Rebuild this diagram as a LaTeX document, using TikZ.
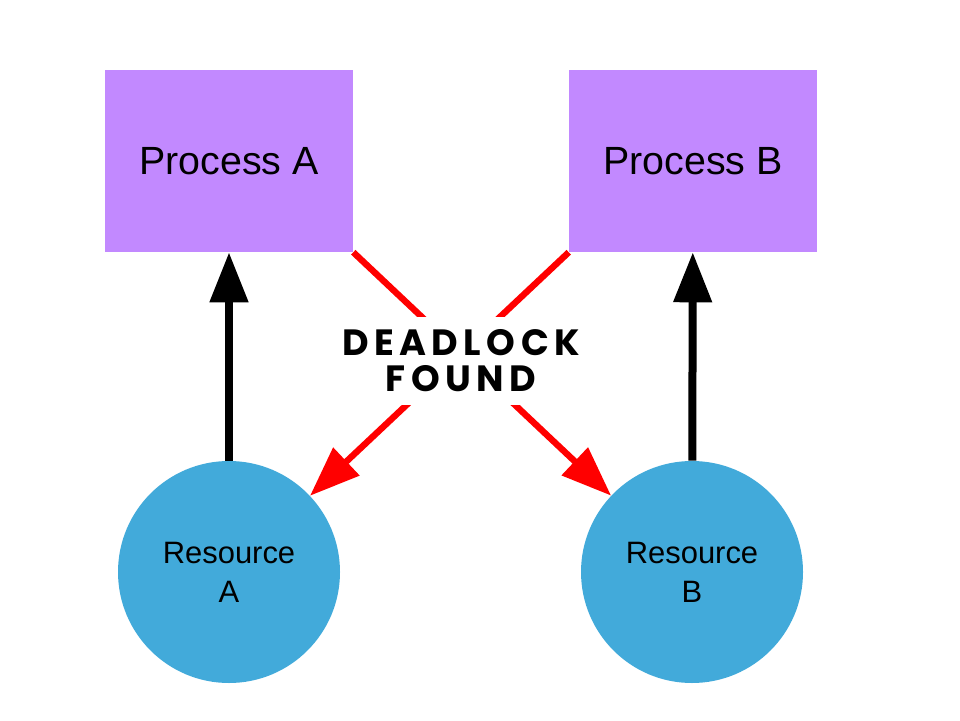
\documentclass[tikz,border=0pt]{standalone}
\usepackage{fontspec}
\setmainfont{Liberation Sans}
\newfontfamily\lockfont[LetterSpace=15]{Poppins}
\usetikzlibrary{arrows.meta}

\definecolor{procfill}{RGB}{194,137,255}
\definecolor{resfill}{RGB}{66,170,218}

\begin{document}
\begin{tikzpicture}[
    process/.style={rectangle, fill=procfill, minimum width=6.2cm, minimum height=4.55cm, inner sep=0pt, font=\fontsize{28}{34}\selectfont},
    resource/.style={circle, fill=resfill, minimum size=5.55cm, inner sep=0pt, align=center, font=\fontsize{22}{27.6}\selectfont},
    holds/.style={draw=black, line width=0.2cm, -{Triangle[length=1.25cm, width=0.925cm]}},
    waits/.style={draw=red, line width=0.16cm, -{Triangle[length=1.25cm, width=0.925cm]}},
    lockbox/.style={fill=white, inner xsep=0.3cm, inner ysep=0.33cm, align=center, font=\lockfont\bfseries\fontsize{26}{25.6}\selectfont}
]
    \useasboundingbox (0,0) rectangle (24,18);

    % top row
    \node[process] (procA) at (5.725,13.975) {Process A};
    \node[process] (procB) at (17.325,13.975) {Process B};

    % bottom row
    \node[resource] (resA) at (5.725,3.7) {Resource\\A};
    \node[resource] (resB) at (17.3,3.7) {Resource\\B};

    % held by
    \draw[holds] (resA) -- (procA);
    \draw[holds] (resB) -- (procB);

    % waiting for
    \draw[waits] (procA.south east) -- (resB);
    \draw[waits] (procB.south west) -- (resA);

    \node[lockbox] (lock) at (11.525,8.975) {DEADLOCK\\FOUND};

\end{tikzpicture}
\end{document}
